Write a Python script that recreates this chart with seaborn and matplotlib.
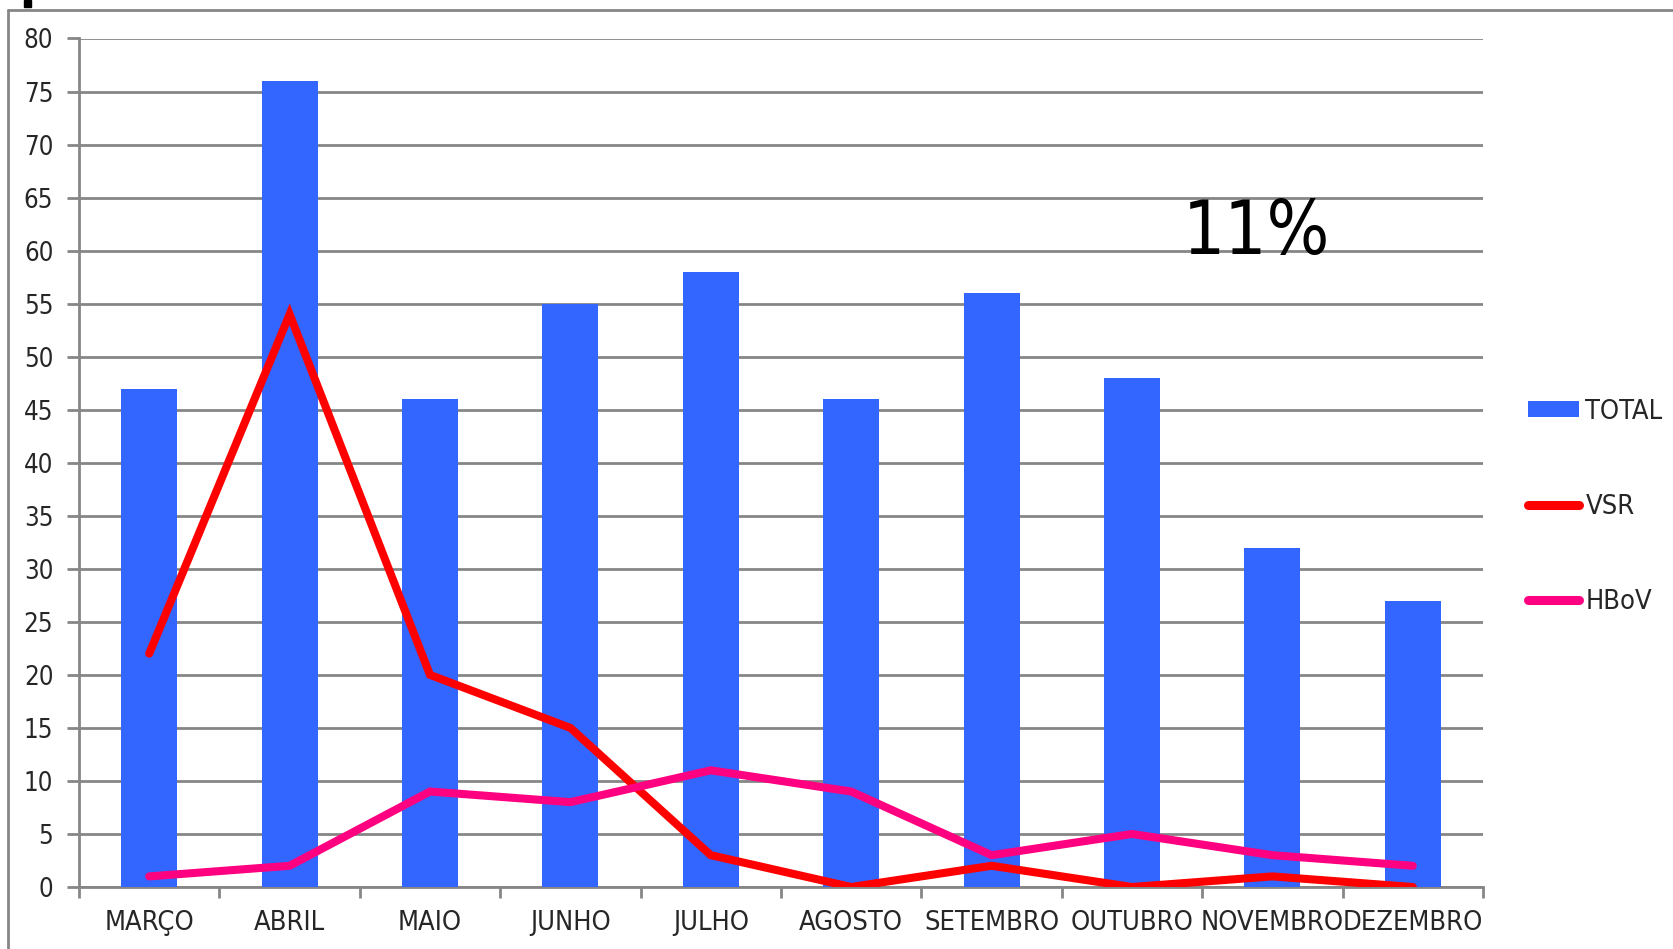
import numpy as np
import pandas as pd
import matplotlib
matplotlib.use("Agg")
import matplotlib.pyplot as plt
import seaborn as sns
from matplotlib.lines import Line2D
from matplotlib.patches import Patch, Rectangle

# Monthly counts
months = ["MARÇO", "ABRIL", "MAIO", "JUNHO", "JULHO", "AGOSTO",
          "SETEMBRO", "OUTUBRO", "NOVEMBRO", "DEZEMBRO"]
total = [47, 76, 46, 55, 58, 46, 56, 48, 32, 27]
vsr = [22, 54, 20, 15, 3, 0, 2, 0, 1, 0]
hbov = [1, 2, 9, 8, 11, 9, 3, 5, 3, 2]
y_ticks = list(range(0, 81, 5))
annotation = "11%"

BLUE = "#3366FF"
RED = "#FF0000"
PINK = "#FF0080"
GRID = "#868686"
W, H = 1674, 949

sns.set_theme(style="white")
plt.rcParams["font.family"] = ["DejaVu Sans"]
plt.rcParams["font.stretch"] = "condensed"

fig = plt.figure(figsize=(W / 100, H / 100), dpi=100)
ax = fig.add_axes([79 / W, 1 - 887 / H, (1483 - 79) / W, (887 - 38.5) / H])

df = pd.DataFrame({"month": months, "TOTAL": total})
sns.barplot(data=df, x="month", y="TOTAL", color=BLUE, saturation=1,
            width=0.4, ax=ax, zorder=3, edgecolor="none")

pos = np.arange(len(months))
sns.lineplot(x=pos, y=vsr, color=RED, linewidth=5.8, ax=ax, zorder=4,
             solid_capstyle="round", solid_joinstyle="miter")
sns.lineplot(x=pos, y=hbov, color=PINK, linewidth=5.8, ax=ax, zorder=5,
             solid_capstyle="round", solid_joinstyle="miter")

ax.set_xlim(-0.5, len(months) - 0.5)
ax.set_ylim(0, 80)
ax.set_yticks(y_ticks)
ax.set_yticklabels([str(v) for v in y_ticks], fontsize=18.5)
ax.set_xticks(pos)
ax.set_xticklabels(months, fontsize=19.5)
ax.set_xticks(np.arange(-0.5, len(months), 1.0), minor=True)
ax.set_xlabel("")
ax.set_ylabel("")

ax.yaxis.grid(True, color=GRID, linewidth=2, zorder=0)
ax.set_axisbelow(True)
ax.tick_params(axis="y", length=9, width=2, color=GRID, pad=9.5, left=True)
ax.tick_params(axis="x", which="major", length=0, pad=16.5)
ax.tick_params(axis="x", which="minor", length=8, width=2, color=GRID, bottom=True)

for side in ["top", "right"]:
    ax.spines[side].set_visible(False)
for side in ["left", "bottom"]:
    ax.spines[side].set_color(GRID)
    ax.spines[side].set_linewidth(2)

fig.text(1256 / W, 1 - 254 / H, annotation, fontsize=53,
         ha="center", va="baseline", color="black")

handles = [Patch(facecolor=BLUE, edgecolor="none", label="TOTAL"),
           Line2D([0], [0], color=RED, linewidth=6.5, solid_capstyle="round", label="VSR"),
           Line2D([0], [0], color=PINK, linewidth=6.5, solid_capstyle="round", label="HBoV")]
fig.legend(handles=handles, loc="center left", bbox_to_anchor=(1528 / W, 1 - 507 / H),
           frameon=False, fontsize=19.5, handlelength=1.9, handleheight=0.55,
           handletextpad=0.22, labelspacing=2.56, borderpad=0, borderaxespad=0)

# Outer frame and corner marker
fig.add_artist(Line2D([8 / W, 8 / W], [0, 1 - 10 / H], color=GRID,
                      linewidth=2, transform=fig.transFigure))
fig.add_artist(Line2D([8 / W, 1], [1 - 10 / H, 1 - 10 / H], color=GRID,
                      linewidth=2, transform=fig.transFigure))
fig.add_artist(Rectangle((24 / W, 1 - 7 / H), 7 / W, 7 / H,
                         color="black", transform=fig.transFigure))

fig.savefig("out.png", dpi=100)
